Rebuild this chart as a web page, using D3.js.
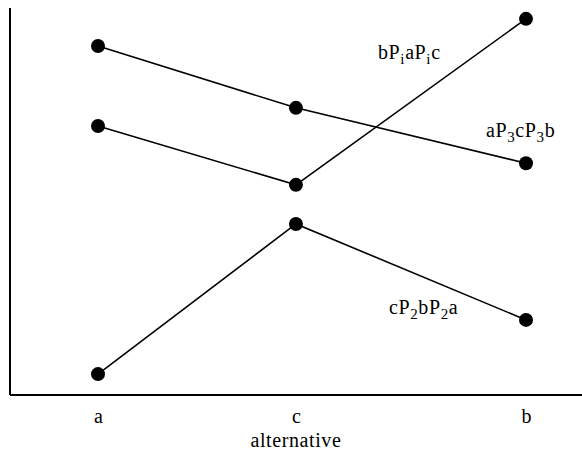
<!DOCTYPE html>
<html>
<head>
<meta charset="utf-8">
<script src="https://cdn.jsdelivr.net/npm/d3@7"></script>
<style>
  body { margin: 0; background: #fff; }
  svg { display: block; }
  text { font-family: "Liberation Serif", "Times New Roman", Times, serif; fill: #000; }
</style>
</head>
<body>
<svg id="chart" width="582" height="457"></svg>
<script>
// alternatives along the x axis, in display order, with their positions
const alternatives = ['a', 'c', 'b'];
const altPos = [0, 0.925, 2];

// preference values (arbitrary utility units)
const seriesI = [69.5, 54.3, 97.2];   // b P_i a P_i c
const series3 = [90.2, 74.2, 59.9];   // a P_3 c P_3 b
const series2 = [5.4, 44.2, 19.4];    // c P_2 b P_2 a

const seriesNames = [
    { parts: [['b'], ['P', 'i'], ['a'], ['P', 'i'], ['c']], values: seriesI, dx: -148, dy: 40 },
    { parts: [['a'], ['P', '3'], ['c'], ['P', '3'], ['b']], values: series3, dx: -40, dy: -26 },
    { parts: [['c'], ['P', '2'], ['b'], ['P', '2'], ['a']], values: series2, dx: -137, dy: -6 }
];

const svg = d3.select('#chart');
const margin = { top: 8, right: 0, bottom: 62, left: 10 };
const width = 582, height = 457;

const x = d3.scaleLinear()
    .domain([0, 2])
    .range([98, 526]);

const y = d3.scaleLinear()
    .domain([0, 100])
    .range([height - margin.bottom, margin.top]);

// axes: plain frame lines (left + bottom), no ticks
svg.append('line')
    .attr('x1', margin.left).attr('x2', margin.left)
    .attr('y1', margin.top).attr('y2', height - margin.bottom)
    .attr('stroke', '#000').attr('stroke-width', 2);
svg.append('line')
    .attr('x1', margin.left).attr('x2', width)
    .attr('y1', height - margin.bottom).attr('y2', height - margin.bottom)
    .attr('stroke', '#000').attr('stroke-width', 2);

const xAxis = svg.append('g')
    .attr('transform', `translate(0,${height - margin.bottom})`)
    .call(d3.axisBottom(x).tickValues(altPos).tickFormat((d, i) => alternatives[i])
        .tickSize(0).tickPadding(14));
xAxis.attr('font-family', null);
xAxis.select('.domain').remove();
xAxis.selectAll('text')
    .attr('font-size', 20)
    .attr('fill', '#000');

svg.append('text')
    .attr('x', x(altPos[1]))
    .attr('y', 447)
    .attr('text-anchor', 'middle')
    .attr('font-size', 20)
    .attr('letter-spacing', 0.6)
    .text('alternative');

const line = d3.line()
    .x((d, i) => x(altPos[i]))
    .y(d => y(d));

seriesNames.forEach(s => {
    svg.append('path')
        .datum(s.values)
        .attr('d', line)
        .attr('fill', 'none')
        .attr('stroke', '#000')
        .attr('stroke-width', 1.6);

    svg.selectAll(null)
        .data(s.values)
        .join('circle')
        .attr('cx', (d, i) => x(altPos[i]))
        .attr('cy', d => y(d))
        .attr('r', 7)
        .attr('fill', '#000');

    // label with subscripts, anchored off the point at "b"
    const t = svg.append('text')
        .attr('x', x(altPos[2]) + s.dx)
        .attr('y', y(s.values[2]) + s.dy)
        .attr('font-size', 20)
        .attr('letter-spacing', 0.6);
    let shifted = false;
    s.parts.forEach(p => {
        t.append('tspan').attr('dy', shifted ? -5 : null).text(p[0]);
        shifted = false;
        if (p[1]) {
            t.append('tspan')
                .attr('dy', 5)
                .attr('font-size', 15)
                .text(p[1]);
            shifted = true;
        }
    });
});
</script>
</body>
</html>
